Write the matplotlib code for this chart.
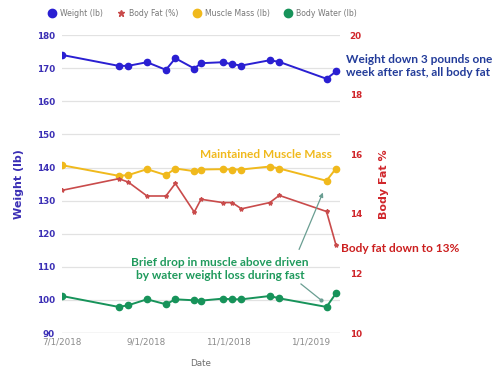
import numpy as np
import pandas as pd
import matplotlib
matplotlib.use("Agg")
import matplotlib.pyplot as plt
from matplotlib.lines import Line2D

# data
dates = pd.to_datetime([
    "2018-07-01", "2018-08-12", "2018-08-19", "2018-09-02", "2018-09-16",
    "2018-09-23", "2018-10-07", "2018-10-12", "2018-10-28", "2018-11-04",
    "2018-11-11", "2018-12-02", "2018-12-09", "2019-01-13", "2019-01-20",
])
weight = [174.0, 170.7, 170.7, 171.8, 169.5, 173.0, 169.9, 171.5, 171.8,
          171.2, 170.8, 172.4, 171.9, 166.8, 169.0]
body_fat = [14.79, 15.18, 15.07, 14.60, 14.60, 15.02, 14.06, 14.49, 14.38,
            14.38, 14.17, 14.38, 14.62, 14.08, 12.96]
muscle = [140.7, 137.5, 137.7, 139.5, 137.7, 139.7, 138.9, 139.4, 139.5,
          139.4, 139.4, 140.3, 139.7, 136.0, 139.7]
water = [101.2, 97.9, 98.4, 100.2, 98.7, 100.2, 99.9, 99.8, 100.4,
         100.2, 100.2, 101.2, 100.5, 97.9, 102.0]

x_ticks = pd.to_datetime(["2018-07-01", "2018-09-01", "2018-11-01", "2019-01-01"])
x_tick_labels = ["7/1/2018", "9/1/2018", "11/1/2018", "1/1/2019"]

c_weight = "#2a1fd2"
c_fat = "#c94b4b"
c_muscle = "#f0b91c"
c_water = "#17935a"
c_left = "#3b2fb5"
c_right = "#d0262b"

fig = plt.figure(figsize=(5, 3.73), dpi=100)
ax = fig.add_axes([0.124, 0.107, 0.556, 0.799])
ax2 = ax.twinx()

ax.plot(dates, weight, color=c_weight, marker="o", ms=4.5, lw=1.4)
ax.plot(dates, muscle, color=c_muscle, marker="o", ms=4.5, lw=1.4)
ax.plot(dates, water, color=c_water, marker="o", ms=4.5, lw=1.4)
ax2.plot(dates, body_fat, color=c_fat, marker="*", ms=3, lw=1.2)

ax.set_ylim(90, 180)
ax.set_yticks(np.arange(90, 181, 10))
ax2.set_ylim(10, 20)
ax2.set_yticks(np.arange(10, 21, 2))
ax.set_xlim(pd.Timestamp("2018-07-01"), pd.Timestamp("2019-01-23"))
ax.set_xticks(x_ticks)
ax.set_xticklabels(x_tick_labels)

ax.grid(axis="y", color="#e2e2e2", lw=0.9)
ax.set_axisbelow(True)
for a in (ax, ax2):
    for s in a.spines.values():
        s.set_visible(False)
ax.axhline(90, color="#cfcfcf", lw=0.9)

ax.tick_params(axis="both", length=0)
ax.tick_params(axis="y", colors=c_left, labelsize=6.3, pad=5)
ax.tick_params(axis="x", colors="#8a8a8a", labelsize=6.3, pad=3)
ax2.tick_params(axis="y", colors=c_right, labelsize=6.3, length=0, pad=7)
for lab in ax.get_yticklabels() + ax2.get_yticklabels():
    lab.set_fontweight("bold")

ax.set_ylabel("Weight (lb)", color=c_left, fontsize=8, fontweight="bold", labelpad=9)
ax2.set_ylabel("Body Fat %", color=c_right, fontsize=8, fontweight="bold", labelpad=12)
ax.set_xlabel("Date", color="#6e6e6e", fontsize=6.3, labelpad=9)

# legend across the top
handles = [
    Line2D([], [], color=c_weight, marker="o", ls="none", ms=6),
    Line2D([], [], color=c_fat, marker="*", ls="none", ms=5),
    Line2D([], [], color=c_muscle, marker="o", ls="none", ms=6),
    Line2D([], [], color=c_water, marker="o", ls="none", ms=6),
]
labels = ["Weight (lb)", "Body Fat (%)", "Muscle Mass (lb)", "Body Water (lb)"]
fig.legend(handles, labels, loc="upper left", bbox_to_anchor=(0.082, 0.995),
           ncol=4, frameon=False, fontsize=5.6, labelcolor="#777777",
           handletextpad=0.5, columnspacing=1.9, handlelength=1.0)

# annotations
fam = "Lato"
fs = 8.6
fig.text(0.692, 0.823, "Weight down 3 pounds one\nweek after fast, all body fat",
         color="#233c9a", fontsize=fs, fontweight="bold", family=fam,
         va="center", ha="left", linespacing=1.25)
fig.text(0.4, 0.585, "Maintained Muscle Mass", color=c_muscle, fontsize=fs,
         fontweight="bold", family=fam, va="center", ha="left")
fig.text(0.682, 0.335, "Body fat down to 13%", color="#cc1f1f", fontsize=fs,
         fontweight="bold", family=fam, va="center", ha="left")
fig.text(0.44, 0.279, "Brief drop in muscle above driven\nby water weight loss during fast",
         color="#1f9a5c", fontsize=fs, fontweight="bold", family=fam,
         va="center", ha="center", linespacing=1.25)

arrow_c = "#6a9e92"
fig.add_artist(matplotlib.patches.FancyArrowPatch(
    (298 / 500, 1 - 252 / 373), (324 / 500, 1 - 190 / 373),
    transform=fig.transFigure, arrowstyle="-|>", mutation_scale=6,
    color=arrow_c, lw=0.9))
fig.add_artist(Line2D([301 / 500, 321 / 500], [1 - 284 / 373, 1 - 300 / 373],
                      transform=fig.transFigure, color=arrow_c, lw=0.9))
fig.add_artist(Line2D([321 / 500], [1 - 300 / 373], transform=fig.transFigure,
                      color=arrow_c, marker="o", ms=2))

fig.savefig("out.png", dpi=100)
